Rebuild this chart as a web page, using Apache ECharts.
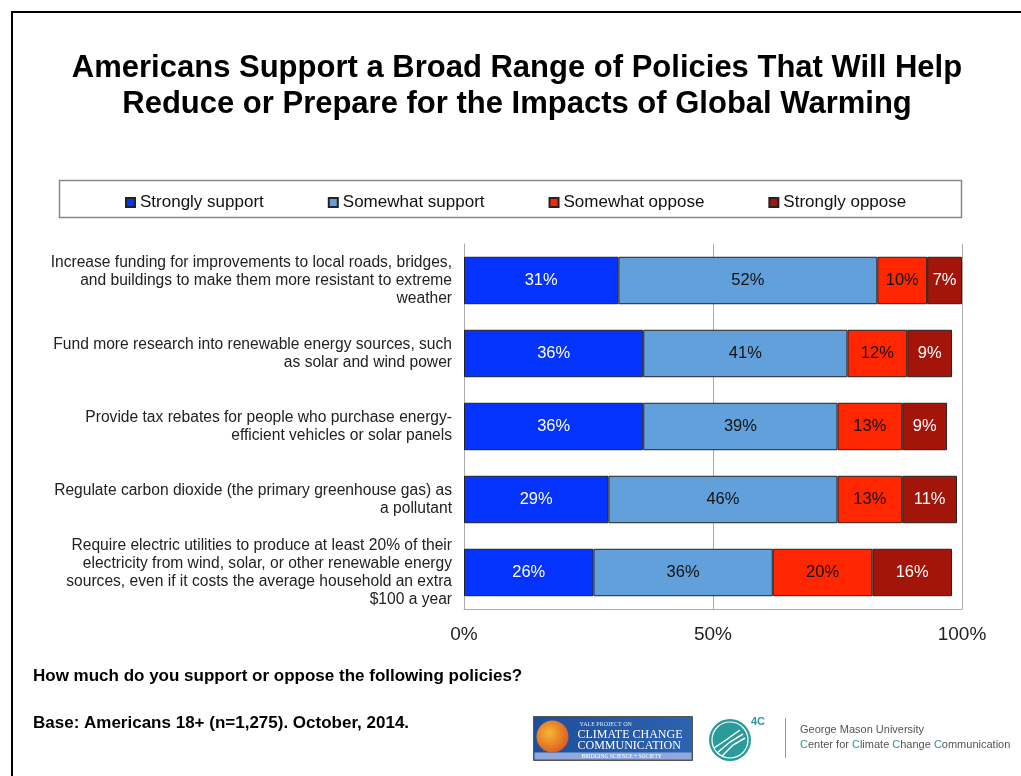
<!DOCTYPE html>
<html>
<head>
<meta charset="utf-8">
<script src="https://cdn.jsdelivr.net/npm/echarts@6/dist/echarts.min.js"></script>
<style>
  html, body { margin: 0; padding: 0; background: #fff; }
  #chart { width: 1021px; height: 776px; }
</style>
</head>
<body>
<div id="chart"></div>
<script>
// Policy statements (top to bottom), with their display line breaks
const policies = [
  'Increase funding for improvements to local roads, bridges,\nand buildings to make them more resistant to extreme\nweather',
  'Fund more research into renewable energy sources, such\nas solar and wind power',
  'Provide tax rebates for people who purchase energy-\nefficient vehicles or solar panels',
  'Regulate carbon dioxide (the primary greenhouse gas) as\na pollutant',
  'Require electric utilities to produce at least 20% of their\nelectricity from wind, solar, or other renewable energy\nsources, even if it costs the average household an extra\n$100 a year'
];

// Response shares, percent
const stronglySupport = [31, 36, 36, 29, 26];
const somewhatSupport = [52, 41, 39, 46, 36];
const somewhatOppose  = [10, 12, 13, 13, 20];
const stronglyOppose  = [7, 9, 9, 11, 16];

const responseNames = ['Strongly support', 'Somewhat support', 'Somewhat oppose', 'Strongly oppose'];
const responseColors = ['#0433FF', '#62A0DB', '#FF2600', '#A31409'];
const labelColors = ['#ffffff', '#111111', '#111111', '#ffffff'];
const xTicks = [0, 50, 100];

const FONT = '"Liberation Sans", Arial, Helvetica, sans-serif';
const SERIF = '"Liberation Serif", "Times New Roman", serif';

const seriesData = [stronglySupport, somewhatSupport, somewhatOppose, stronglyOppose];

const chart = echarts.init(document.getElementById('chart'), null, { renderer: 'canvas' });

chart.setOption({
  backgroundColor: '#ffffff',
  animation: false,
  legend: {
    data: responseNames,
    top: 189,
    left: 120,
    icon: 'rect',
    itemWidth: 9,
    itemHeight: 9,
    itemGap: 64,
    textStyle: { fontFamily: FONT, fontSize: 17, color: '#111' }
  },
  grid: { left: 464, right: 59, top: 244, bottom: 167, containLabel: false },
  xAxis: {
    type: 'value',
    min: 0,
    max: 100,
    interval: 50,
    axisLine: { show: true, lineStyle: { color: '#aaaaaa', width: 1 } },
    axisTick: { show: false },
    splitLine: { show: true, lineStyle: { color: '#aaaaaa', width: 1 } },
    axisLabel: {
      margin: 16,
      fontFamily: FONT,
      fontSize: 19,
      color: '#222',
      formatter: v => (xTicks.indexOf(v) >= 0 ? v + '%' : '')
    }
  },
  yAxis: {
    type: 'category',
    data: policies,
    inverse: true,
    axisLine: { show: true, lineStyle: { color: '#aaaaaa', width: 1 } },
    axisTick: { show: false },
    axisLabel: {
      margin: 12,
      fontFamily: FONT,
      fontSize: 15.6,
      lineHeight: 18,
      color: '#222',
      align: 'right'
    }
  },
  series: seriesData.map((vals, i) => ({
    name: responseNames[i],
    type: 'bar',
    stack: 'total',
    barCategoryGap: '35%',
    data: vals,
    itemStyle: { color: responseColors[i], borderColor: '#222', borderWidth: 1 },
    label: {
      show: true,
      position: 'inside',
      formatter: p => p.value + '%',
      fontFamily: FONT,
      fontSize: 16.5,
      color: labelColors[i]
    }
  })),
  graphic: [
    // page frame
    { type: 'rect', shape: { x: 12, y: 12, width: 1200, height: 900 }, style: { fill: 'none', stroke: '#000', lineWidth: 2 }, silent: true },
    // headline
    {
      type: 'text', silent: true,
      style: {
        x: 517, y: 50,
        text: 'Americans Support a Broad Range of Policies That Will Help\nReduce or Prepare for the Impacts of Global Warming',
        font: 'bold 31px ' + FONT,
        lineHeight: 36,
        align: 'center',
        verticalAlign: 'top',
        fill: '#000'
      }
    },
    // legend box
    { type: 'rect', shape: { x: 59.5, y: 180.5, width: 902, height: 37 }, style: { fill: 'none', stroke: '#888', lineWidth: 1.5 }, silent: true, z: -1 },
    // question & base notes
    { type: 'text', left: 33, top: 668, style: { text: 'How much do you support or oppose the following policies?', font: 'bold 17px ' + FONT, fill: '#000' } },
    { type: 'text', left: 33, top: 715, style: { text: 'Base: Americans 18+ (n=1,275). October, 2014.', font: 'bold 17px ' + FONT, fill: '#000' } },
    // Yale Project on Climate Change Communication badge
    {
      type: 'group', left: 533, top: 716,
      children: [
        { type: 'rect', shape: { x: 0, y: 0, width: 159, height: 44 }, style: { fill: new echarts.graphic.LinearGradient(0, 0, 1, 0, [{ offset: 0, color: '#1d4f9a' }, { offset: 1, color: '#2d62b0' }]), stroke: '#555', lineWidth: 1 } },
        { type: 'rect', shape: { x: 1, y: 36, width: 157, height: 7 }, style: { fill: '#8fa9dc' } },
        { type: 'circle', shape: { cx: 19, cy: 20, r: 16 }, style: { fill: new echarts.graphic.RadialGradient(0.4, 0.4, 0.7, [{ offset: 0, color: '#f7b733' }, { offset: 1, color: '#d9531e' }]) } },
        { type: 'text', style: { x: 46, y: 5, text: 'YALE PROJECT ON', font: '6px ' + SERIF, fill: '#dfe6f5' } },
        { type: 'text', style: { x: 44, y: 12, text: 'CLIMATE CHANGE', font: '12px ' + SERIF, fill: '#ffffff' } },
        { type: 'text', style: { x: 44, y: 23, text: 'COMMUNICATION', font: '12px ' + SERIF, fill: '#ffffff' } },
        { type: 'text', style: { x: 48, y: 37, text: 'BRIDGING SCIENCE + SOCIETY', font: '5.5px ' + SERIF, fill: '#ffffff' } }
      ]
    },
    // 4C mark
    {
      type: 'group', left: 709, top: 716,
      children: [
        { type: 'circle', shape: { cx: 22, cy: 22, r: 21 }, style: { fill: '#2a9a9a' } },
        { type: 'circle', shape: { cx: 22, cy: 22, r: 18 }, style: { fill: 'none', stroke: '#ffffff', lineWidth: 1.2 } },
        { type: 'polyline', shape: { points: [[6, 30], [18, 22], [32, 12]] }, style: { stroke: '#ffffff', lineWidth: 1.5, fill: 'none' } },
        { type: 'polyline', shape: { points: [[9, 35], [22, 24], [35, 16]] }, style: { stroke: '#ffffff', lineWidth: 1.5, fill: 'none' } },
        { type: 'polyline', shape: { points: [[14, 38], [25, 27], [37, 20]] }, style: { stroke: '#ffffff', lineWidth: 1.5, fill: 'none' } },
        { type: 'text', style: { x: 43, y: -2, text: '4C', font: 'bold 11px ' + FONT, fill: '#2a9a9a' } }
      ]
    },
    { type: 'line', shape: { x1: 785.5, y1: 718, x2: 785.5, y2: 758 }, style: { stroke: '#999', lineWidth: 1 } },
    { type: 'text', left: 800, top: 724, style: { text: 'George Mason University', font: '11px ' + FONT, fill: '#555' } },
    {
      type: 'text', left: 800, top: 739,
      style: {
        text: '{c|C}enter for {c|C}limate {c|C}hange {c|C}ommunication',
        font: '11px ' + FONT,
        fill: '#555',
        rich: { c: { fill: '#2a9a9a', font: '11px ' + FONT } }
      }
    }
  ]
});
</script>
</body>
</html>
